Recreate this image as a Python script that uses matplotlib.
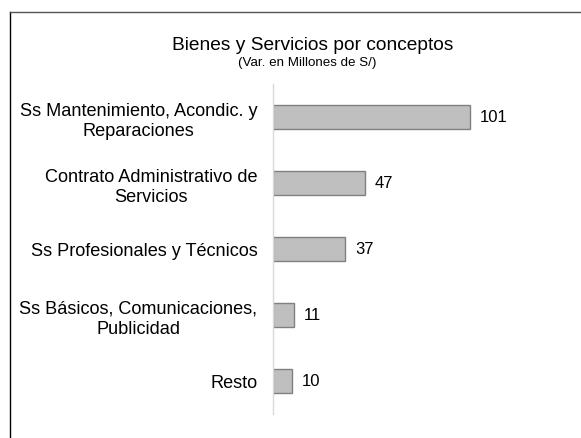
import matplotlib
matplotlib.use("Agg")
import matplotlib.pyplot as plt
from matplotlib.lines import Line2D

categories = [
    "Ss Mantenimiento, Acondic. y\nReparaciones",
    "Contrato Administrativo de\nServicios",
    "Ss Profesionales y Técnicos",
    "Ss Básicos, Comunicaciones,\nPublicidad",
    "Resto",
]
values = [101, 47, 37, 11, 10]
title = "Bienes y Servicios por conceptos"
subtitle = "(Var. en Millones de S/)"

plt.rcParams['font.family'] = ['Liberation Sans', 'DejaVu Sans']

W, H = 581, 439
fig = plt.figure(figsize=(W/100, H/100), dpi=100)
ax = fig.add_axes([272.7/W, 1-415/H, 274/W, 330/H])

ypos = list(range(len(categories)))
ax.barh(ypos, values, height=0.36, color='#bfbfbf', edgecolor='#808080', linewidth=1.0)
ax.set_ylim(len(categories)-0.5, -0.5)
ax.set_xlim(0, 140)
ax.set_yticks(ypos)
ax.set_yticklabels(categories, fontsize=13.1, color='#000000')
for t in ax.get_yticklabels():
    t.set_multialignment('center')
ax.tick_params(axis='y', length=0, pad=11)
ax.tick_params(axis='x', bottom=False, labelbottom=False)
for s in ['top', 'right', 'bottom']:
    ax.spines[s].set_visible(False)
ax.spines['left'].set_color('#d9d9d9')
ax.spines['left'].set_linewidth(1.0)

for y, v in zip(ypos, values):
    ax.annotate(str(v), (v, y), xytext=(7, 0), textcoords='offset points',
                va='center', ha='left', fontsize=12)

fig.text(313/W, 1-45/H, title, ha='center', va='center', fontsize=13.8)
fig.text(307.5/W, 1-63/H, subtitle, ha='center', va='center', fontsize=9.6)

# figure frame (left and top edges visible)
fig.add_artist(Line2D([9.5/W, 9.5/W], [0, 1-12.5/H], transform=fig.transFigure, color='#000000', linewidth=1.0))
fig.add_artist(Line2D([9.5/W, 1], [1-12.5/H, 1-12.5/H], transform=fig.transFigure, color='#555555', linewidth=1.0))

fig.savefig("out.png", dpi=100)
